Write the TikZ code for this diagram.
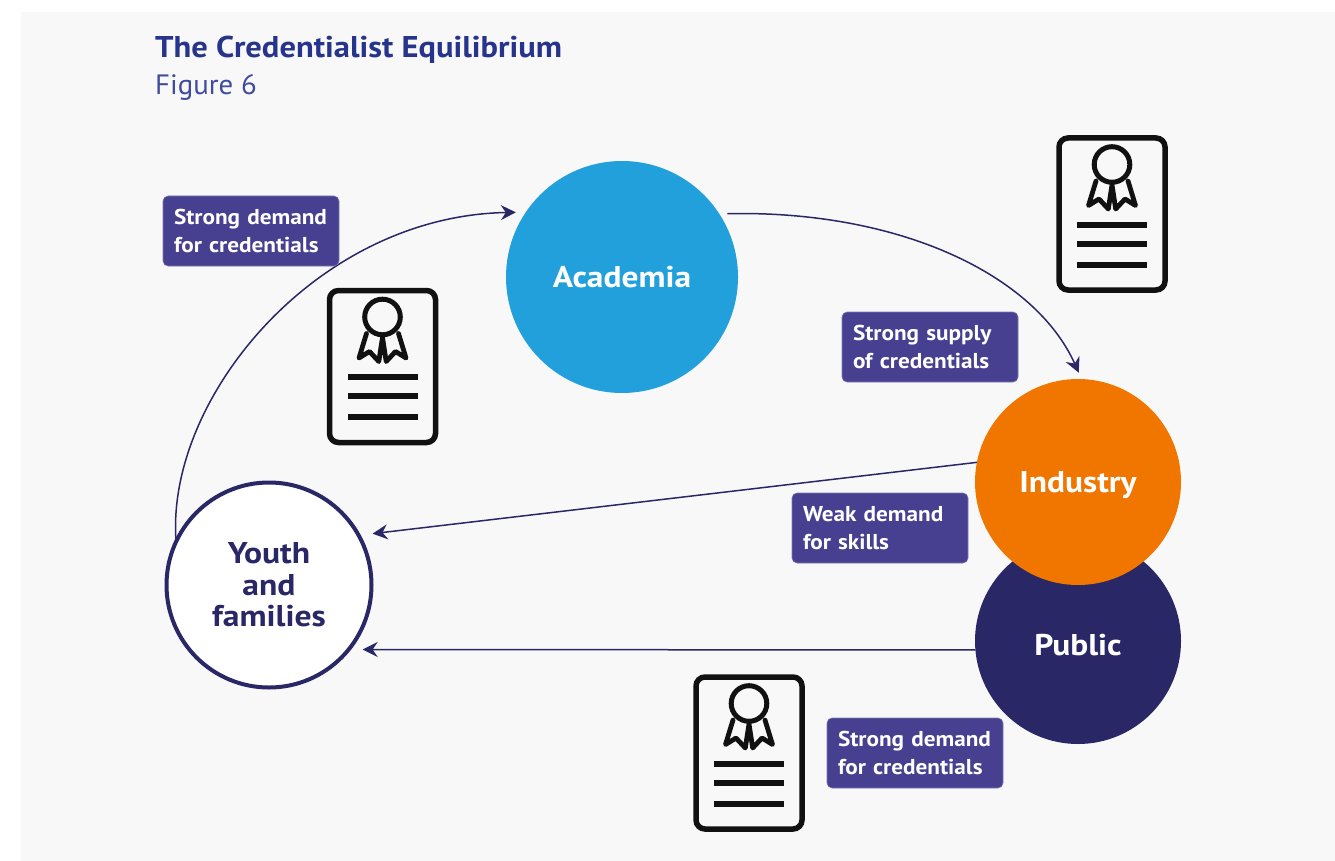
\documentclass[tikz,border=0pt]{standalone}
\usepackage{fontspec}
\setmainfont{PT Sans}
\newfontfamily\labfont[UprightFont={PT Sans Bold},FakeStretch=1.08]{PT Sans}
\newfontfamily\circfont[UprightFont={PT Sans Bold},FakeStretch=1.115]{PT Sans}
\newfontfamily\youthfont[BoldFont={PT Sans Bold},FakeStretch=1.12]{PT Sans}
\newfontfamily\titlefont[BoldFont={PT Sans Bold},FakeStretch=1.085]{PT Sans}
\newfontfamily\subfont[FakeStretch=1.03]{PT Sans}
\usetikzlibrary{arrows.meta}
\definecolor{panel}{HTML}{F8F8F9}
\definecolor{titleblue}{HTML}{27348B}
\definecolor{subblue}{HTML}{3F4C9E}
\definecolor{labelbg}{HTML}{473F8F}
\definecolor{navy}{HTML}{2A2766}
\definecolor{acadblue}{HTML}{22A0DC}
\definecolor{indorange}{HTML}{F07600}
\definecolor{iconblack}{HTML}{111111}
\tikzset{
  x=1pt,y=-1pt,
  circ/.style={circle,inner sep=0pt,outer sep=0pt,align=center,font=\fontsize{30}{31.5}\selectfont\circfont},
  lab/.style={rectangle,rounded corners=5pt,fill=labelbg,draw=labelbg!70!white,line width=.6pt,text=white,
    minimum width=176pt,minimum height=70pt,inner sep=0pt,outer sep=0pt,text width=154pt,align=left,
    font=\fontsize{21.5}{28}\selectfont\labfont},
  conn/.style={draw=navy,line width=1.5pt,-{Stealth[length=15pt,width=15pt,inset=5pt]}},
  certificate/.pic={
    \draw[iconblack,line width=5.5pt,rounded corners=9pt] (-53,-76) rectangle (53,76);
    \draw[iconblack,line width=5pt] (0,-49.5) circle (17.8);
    \draw[iconblack,line width=4.8pt,line join=round,line cap=round]
      (-16,-33) -- (-23.5,-8.5) -- (-13,-15) -- (-3.7,-5) -- (0,-29) -- (3.7,-5) -- (13,-15) -- (23.5,-8.5) -- (16,-33);
    \foreach \yy in {10.5,29.5,50.5}
      \fill[iconblack] (-35,\yy-3) rectangle (35,\yy+3);
  }
}
\begin{document}
\begin{tikzpicture}
\useasboundingbox (0,0) rectangle (1335,861);
\fill[white] (0,0) rectangle (1335,861);
\fill[panel] (21,12) rectangle (1335,861);

\node[anchor=base west,inner sep=0pt,text=titleblue,font=\fontsize{30}{32}\selectfont\titlefont\bfseries] (title) at (155,58) {The Credentialist Equilibrium};
\node[anchor=base west,inner sep=0pt,text=subblue,font=\fontsize{28}{30}\selectfont\subfont] (fig) at (155,95) {Figure 6};

\node[circ,minimum size=232pt,fill=acadblue,text=white] (acad) at (622,277) {Academia};
\node[circ,minimum size=206pt,fill=navy,text=white] (public) at (1078,641) {\raisebox{-4pt}[\height][\depth]{Public}};
\node[circ,minimum size=206pt,fill=indorange,text=white] (industry) at (1078,482) {\raisebox{-3pt}[\height][\depth]{Industry}};
\node[circ,minimum size=205pt,fill=white,draw=navy,line width=4pt,text=navy,font=\fontsize{30}{31.5}\selectfont\youthfont\bfseries] (youth) at (269,585) {Youth\\and\\families};

\draw[conn,shorten >=10pt] (youth.155) .. controls (165,400) and (315,216) .. (acad.146.5);
\draw[conn,shorten <=8pt,shorten >=7pt] (acad.33.5) .. controls (900,210) and (1035,275) .. (industry.88);
\draw[conn,shorten >=14pt] (industry.169) -- (youth.29.4);
\draw[conn,shorten >=14pt] (public.185) -- (youth.-39);

\node[lab] (l1) at (251,231) {Strong demand\\for credentials};
\node[lab] (l2) at (930,347) {Strong supply\\of credentials};
\node[lab] (l3) at (880,528) {Weak demand\\for skills};
\node[lab] (l4) at (915,753) {Strong demand\\for credentials};

\pic at (382.5,366.5) {certificate};
\pic at (1112,214) {certificate};
\pic at (749,753) {certificate};
\end{tikzpicture}
\end{document}
